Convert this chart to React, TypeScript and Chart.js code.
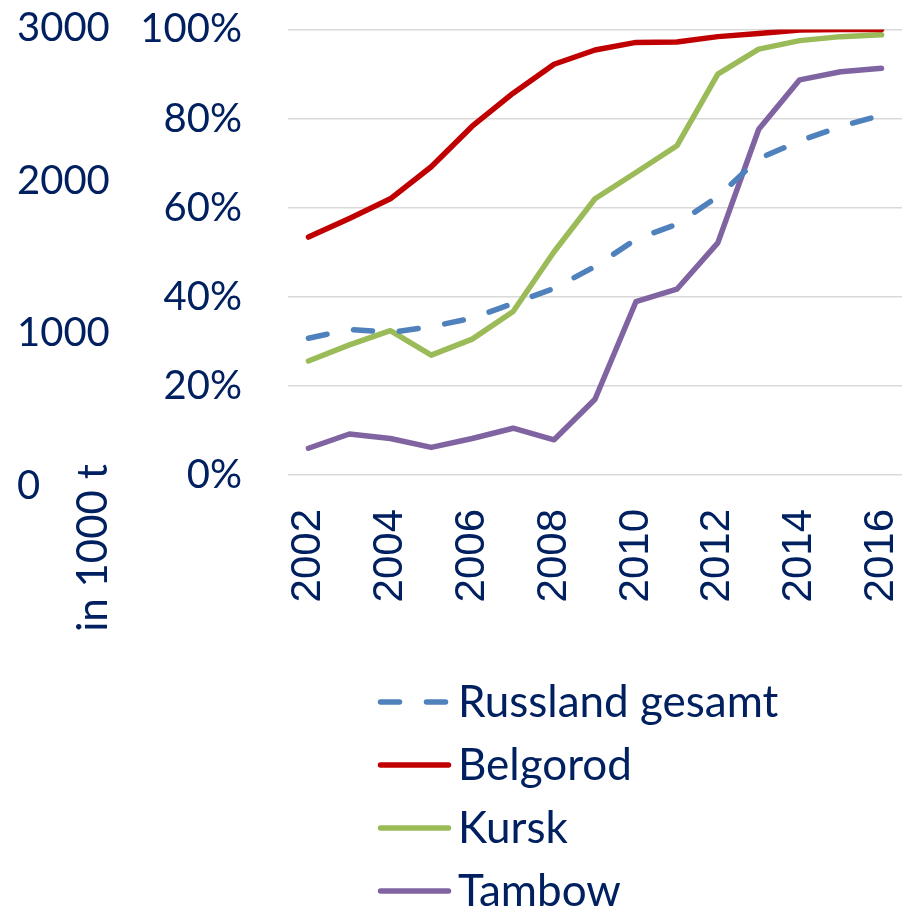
import React, { useEffect, useRef } from 'react';
import { Chart, registerables } from 'chart.js';

Chart.register(...registerables);

// ---- data ----
const years = ['2002', '2003', '2004', '2005', '2006', '2007', '2008', '2009', '2010', '2011', '2012', '2013', '2014', '2015', '2016'];
const russland = [30.7, 32.7, 32.0, 33.3, 35.2, 38.5, 41.9, 46.8, 52.9, 56.3, 62.5, 71.0, 75.0, 78.2, 80.8];
const belgorod = [53.4, 57.6, 62.0, 69.2, 78.3, 85.7, 92.2, 95.4, 97.1, 97.2, 98.4, 99.1, 99.9, 100, 100];
const kursk = [25.6, 29.2, 32.4, 26.9, 30.5, 36.7, 50.1, 62.0, 67.9, 73.9, 90.0, 95.6, 97.5, 98.4, 98.8];
const tambow = [6.0, 9.2, 8.2, 6.2, 8.2, 10.5, 7.9, 17.0, 38.9, 41.7, 52.1, 77.6, 88.7, 90.5, 91.3];
const seriesNames = ['Russland gesamt', 'Belgorod', 'Kursk', 'Tambow'];
const percentTicks = [0, 20, 40, 60, 80, 100];
const tonnesTicks = [0, 1000, 2000, 3000];
const tonnesTitle = 'in 1000 t';

const NAVY = '#002060';
const FONT = 'Lato, "Open Sans", sans-serif';

const customLegend = {
  id: 'customLegend',
  afterDraw(chart: any) {
    const ctx = chart.ctx as CanvasRenderingContext2D;
    ctx.save();
    chart.data.datasets.forEach((ds: any, i: number) => {
      const y = 702 + i * 63;
      ctx.beginPath();
      ctx.strokeStyle = ds.borderColor;
      ctx.lineWidth = ds.borderWidth;
      ctx.lineCap = 'round';
      ctx.setLineDash(ds.borderDash || []);
      ctx.moveTo(380.5, y);
      ctx.lineTo(448.5, y);
      ctx.stroke();
      ctx.setLineDash([]);
      ctx.fillStyle = NAVY;
      ctx.font = `44px ${FONT}`;
      ctx.textAlign = 'left';
      ctx.textBaseline = 'alphabetic';
      ctx.fillText(ds.label, 458, y + 15);
    });
    // title of the tonnes axis
    ctx.translate(107, 548);
    ctx.rotate(-Math.PI / 2);
    ctx.fillStyle = NAVY;
    ctx.font = `42px ${FONT}`;
    ctx.textAlign = 'center';
    ctx.textBaseline = 'alphabetic';
    ctx.fillText(tonnesTitle, 0, 0);
    ctx.restore();
  },
};

export default function App() {
  const ref = useRef<HTMLCanvasElement>(null);
  useEffect(() => {
    if (!ref.current) return;
    const common = { borderWidth: 5.5, pointRadius: 0, tension: 0, fill: false, borderCapStyle: 'round', borderJoinStyle: 'round' };
    const chart = new Chart(ref.current, {
      type: 'line',
      data: {
        labels: years,
        datasets: [
          { ...common, label: seriesNames[0], data: russland, borderColor: '#4F81BD', borderDash: [19, 27], yAxisID: 'y' },
          { ...common, label: seriesNames[1], data: belgorod, borderColor: '#C00000', yAxisID: 'y' },
          { ...common, label: seriesNames[2], data: kursk, borderColor: '#9BBB59', yAxisID: 'y' },
          { ...common, label: seriesNames[3], data: tambow, borderColor: '#8064A2', yAxisID: 'y' },
        ] as any,
      },
      options: {
        responsive: false,
        animation: false,
        layout: { padding: { left: 17, right: 8, top: 29.5, bottom: 0 } },
        plugins: { legend: { display: false }, tooltip: { enabled: false }, title: { display: false } },
        scales: {
          x: {
            type: 'category',
            offset: true,
            grid: { display: false },
            border: { display: false },
            ticks: {
              autoSkip: false,
              maxRotation: 90,
              minRotation: 90,
              padding: 26,
              color: NAVY,
              font: { family: '"Liberation Sans", Arial, sans-serif', size: 42 },
              callback: (_v: any, i: number) => (i % 2 === 0 ? years[i] : ''),
            },
            afterFit: (s: any) => { s.height = 432; s.paddingLeft = 0; s.paddingRight = 0; },
          },
          yT: {
            type: 'linear',
            position: 'left',
            weight: 1,
            min: 72,
            max: 2994,
            grid: { display: false },
            border: { display: false },
            ticks: {
              crossAlign: 'far',
              color: NAVY,
              font: { family: FONT, size: 40 },
              callback: (v: any) => String(v),
            },
            afterBuildTicks: (s: any) => { s.ticks = tonnesTicks.map((v) => ({ value: v })); },
            afterFit: (s: any) => { s.width = 121; s.paddingTop = 0; s.paddingBottom = 0; },
          },
          y: {
            type: 'linear',
            position: 'left',
            weight: 0,
            min: 0,
            max: 100,
            grid: { color: '#d9d9d9', lineWidth: 1.5, drawTicks: false },
            border: { display: false },
            ticks: {
              stepSize: 20,
              padding: 46,
              color: NAVY,
              font: { family: FONT, size: 40 },
              callback: (v: any) => v + '%',
            },
            afterBuildTicks: (s: any) => { s.ticks = percentTicks.map((v) => ({ value: v })); },
            afterFit: (s: any) => { s.width = 150; s.paddingTop = 0; s.paddingBottom = 0; },
          },
        } as any,
      },
      plugins: [customLegend],
    });
    return () => chart.destroy();
  }, []);
  return (
    <div style={{ position: 'absolute', left: 0, top: 0, width: 910, height: 907, background: '#fff' }}>
      <canvas ref={ref} width={910} height={907} style={{ display: 'block' }} />
    </div>
  );
}
